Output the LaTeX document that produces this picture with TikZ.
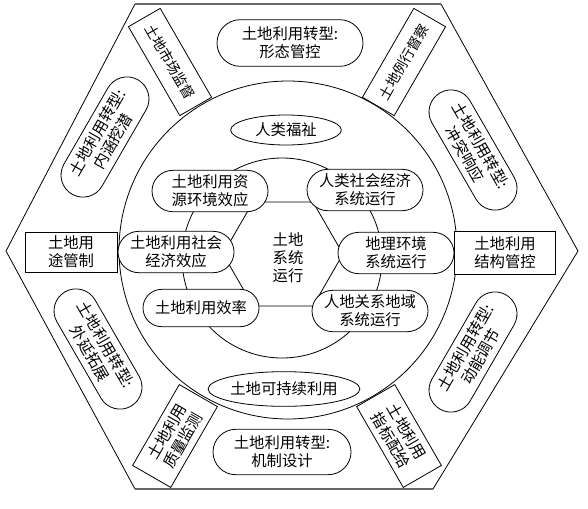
\documentclass[tikz,border=0pt]{standalone}
\usepackage{fontspec}
\setmainfont{Noto Sans CJK SC}
\usetikzlibrary{shapes.geometric,shapes.misc}
\begin{document}
\begin{tikzpicture}[x=0.75pt,y=-0.75pt,
  every node/.style={font=\fontsize{11.5}{13.5}\selectfont, inner sep=0pt, align=center},
  edge/.style={line width=0.6pt, draw=black},
  hedge/.style={line width=1.3pt, draw=black!60},
  pill/.style={rounded rectangle, draw, line width=0.6pt, fill=white},
  ipill/.style={pill, minimum width=87pt, minimum height=31pt},
  dpill/.style={pill, minimum width=99pt, minimum height=33pt},
  box/.style={rectangle, draw, line width=0.6pt, fill=white},
  oval/.style={ellipse, draw, line width=0.6pt, fill=white},
  smallfont/.style={font=\fontsize{10.5}{12.5}\selectfont}
]
\useasboundingbox (0,0) rectangle (588,508);
% outer hexagon
\coordinate (V1) at (135,4);
\coordinate (V2) at (441,4);
\coordinate (V3) at (578,251);
\coordinate (V4) at (433,489);
\coordinate (V5) at (135,489);
\coordinate (V6) at (6,251);
\draw[edge] (V2) -- (V3) -- (V4);
\draw[edge] (V5) -- (V6) -- (V1);
\draw[hedge] (V1) -- (V2);
\draw[hedge] (V4) -- (V5);
% circles
\coordinate (C0) at (288,250);
\coordinate (C1) at (282,258);
\draw[edge] (C0) circle[radius=126.75pt];
\draw[edge] (C1) circle[radius=75pt];
% inner hexagon
\coordinate (K1) at (253,202);
\coordinate (K2) at (313,202);
\coordinate (K3) at (343,254);
\coordinate (K4) at (313,306);
\coordinate (K5) at (253,306);
\coordinate (K6) at (223,254);
\draw[edge] (K1) -- (K2) -- (K3) -- (K4) -- (K5) -- (K6) -- cycle;

% inner nodes
\node (core) at (288,258) {土地\\系统\\运行};
\node[ipill] (res) at (210,191) {土地利用资\\源环境效应};
\node[ipill] (hum) at (365,190) {人类社会经济\\系统运行};
\node[ipill] (soc) at (176,252) {土地利用社会\\经济效应};
\node[ipill] (geo) at (396,253) {地理环境\\系统运行};
\node[ipill, minimum height=28pt] (eff) at (201,308) {土地利用效率};
\node[ipill] (reg) at (370,311) {人地关系地域\\系统运行};

% ring ellipses
\node[oval, minimum width=83pt, minimum height=22.5pt] (welfare) at (286,130) {人类福祉};
\node[oval, minimum width=111pt, minimum height=26pt] (sust) at (284,389) {土地可持续利用};

% hexagon ring: pills
\node[pill, minimum width=109.5pt, minimum height=35pt] (ptop) at (290,43) {土地利用转型:\\形态管控};
\node[pill, minimum width=103.5pt, minimum height=34pt] (pbot) at (282,452) {土地利用转型:\\机制设计};
\node[dpill, rotate=60] (pul) at (105,137) {土地利用转型:\\内涵挖潜};
\node[dpill, rotate=-60] (pur) at (473,150) {土地利用转型:\\冲突响应};
\node[dpill, rotate=-60] (pll) at (98,349) {土地利用转型:\\外延拓展};
\node[dpill, rotate=60] (plr) at (473,352) {土地利用转型:\\动能调节};

% hexagon ring: boxes
\node[box, minimum width=69pt, minimum height=30pt] (bl) at (71,252) {土地用\\途管制};
\node[box, minimum width=76pt, minimum height=32pt] (br) at (505,253) {土地利用\\结构管控};
\node[box, smallfont, rotate=-60, minimum width=77pt, minimum height=27.5pt] (bul) at (170,62) {土地市场监督};
\node[box, smallfont, rotate=60, minimum width=77pt, minimum height=27.5pt] (bur) at (404,62) {土地例行督察};
\node[box, rotate=60, minimum width=70pt, minimum height=33pt] (bll) at (175,436) {土地利用\\质量监测};
\node[box, rotate=-60, minimum width=70pt, minimum height=33pt] (blr) at (399,436) {土地利用\\指标配给};
\end{tikzpicture}
\end{document}
